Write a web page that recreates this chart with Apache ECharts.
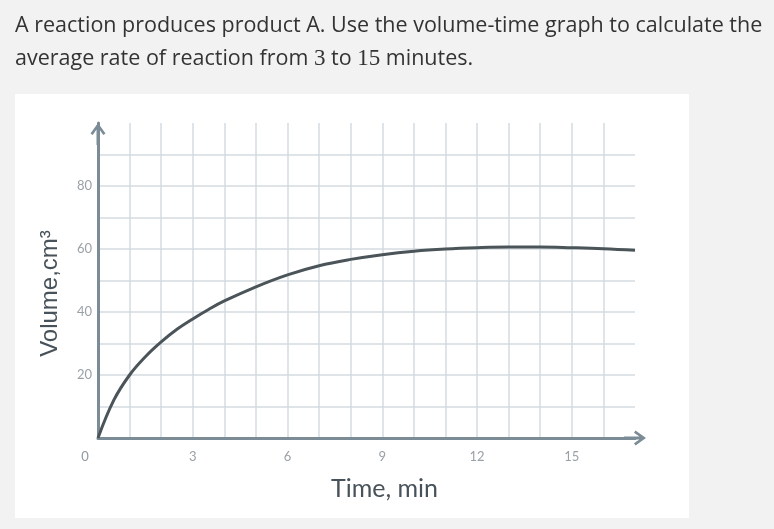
<!DOCTYPE html>
<html>
<head>
<meta charset="utf-8">
<script src="https://cdn.jsdelivr.net/npm/echarts@6/dist/echarts.min.js"></script>
<style>
html,body{margin:0;padding:0;background:#f2f2f2;}
#c{width:774px;height:529px;}
</style>
</head>
<body>
<div id="c"></div>
<script>
// Data
var timeMin = [0, 0.5, 1, 1.5, 2, 2.5, 3, 3.5, 4, 5, 6, 7, 8, 9, 10, 11, 12, 13, 14, 15, 16, 17];
var volumeCm3 = [0, 12, 20, 25.8, 30.5, 34.5, 37.8, 40.8, 43.5, 48, 51.8, 54.7, 56.7, 58.2, 59.3, 60, 60.4, 60.6, 60.6, 60.4, 60.1, 59.6];
var xTickLabels = [0, 3, 6, 9, 12, 15];
var yTickLabels = [20, 40, 60, 80];
var titleLine1 = 'A reaction produces product A. Use the volume-time graph to calculate the';
var titleLine2 = 'average rate of reaction from {m|3} to {m|15} minutes.';
var xName = 'Time, min';
var yName = 'Volume,cm\u00B3';

var points = timeMin.map(function (t, i) { return [t, volumeCm3[i]]; });

var axisColor = '#7b8c96';
var gridColor = '#d3dbe0';
var labelColor = '#9aa1a6';
var arrowPath = 'path://M7.5,0 L15,10.5 L12.8,12 L9,6.6 L9,22 L6,22 L6,6.6 L2.2,12 L0,10.5 Z';

var chart = echarts.init(document.getElementById('c'));
chart.setOption({
  backgroundColor: '#f2f2f2',
  animation: false,
  title: {
    left: 15,
    top: 9,
    padding: 0,
    text: titleLine1 + '\n' + titleLine2,
    textStyle: {
      fontFamily: 'Open Sans',
      fontSize: 21.5,
      fontWeight: 'normal',
      color: '#333333',
      lineHeight: 33,
      rich: {
        m: { fontFamily: 'Liberation Serif', fontSize: 23, color: '#333333', lineHeight: 33 }
      }
    }
  },
  graphic: [{
    type: 'rect',
    z: -10,
    shape: { x: 15, y: 94, width: 674, height: 424 },
    style: { fill: '#ffffff' }
  }],
  grid: { left: 98, top: 123, width: 537, height: 315, containLabel: false },
  xAxis: {
    type: 'value',
    min: 0, max: 17, interval: 1,
    name: xName,
    nameLocation: 'middle',
    nameGap: 38,
    nameTextStyle: { fontFamily: 'Lato', fontSize: 25, color: '#48525a', padding: [0, 0, 0, 36] },
    axisLine: { show: true, lineStyle: { color: axisColor, width: 3 }, symbol: ['none', arrowPath], symbolSize: [15, 22], symbolOffset: [0, 0] },
    axisTick: { show: false },
    axisLabel: {
      margin: 12,
      fontFamily: 'Lato', fontSize: 13, color: labelColor,
      formatter: function (v) {
        if (v === 0) return '{z|0}';
        return xTickLabels.indexOf(v) >= 0 ? String(v) : '';
      },
      rich: { z: { fontFamily: 'Lato', fontSize: 13, color: '#8e979c', padding: [0, 26, 0, 0] } }
    },
    splitLine: { show: true, showMinLine: false, showMaxLine: false, lineStyle: { color: gridColor, width: 1.5 } }
  },
  yAxis: {
    type: 'value',
    min: 0, max: 100, interval: 10,
    name: yName,
    nameLocation: 'middle',
    nameGap: 36,
    nameTextStyle: { fontFamily: 'Liberation Sans', fontSize: 24, color: '#48525a', padding: [0, 26, 0, 0] },
    axisLine: { show: true, lineStyle: { color: axisColor, width: 3 }, symbol: ['none', arrowPath], symbolSize: [15, 22], symbolOffset: [0, -11] },
    axisTick: { show: false },
    axisLabel: {
      margin: 6,
      fontFamily: 'Lato', fontSize: 13, color: labelColor,
      formatter: function (v) { return yTickLabels.indexOf(v) >= 0 ? String(v) : ''; }
    },
    splitLine: { show: true, showMinLine: false, showMaxLine: false, lineStyle: { color: gridColor, width: 1.5 } }
  },
  series: [{
    type: 'line',
    data: points,
    smooth: 0.4,
    showSymbol: false,
    lineStyle: { color: '#4a5459', width: 3 },
    z: 5
  }]
});
</script>
</body>
</html>
